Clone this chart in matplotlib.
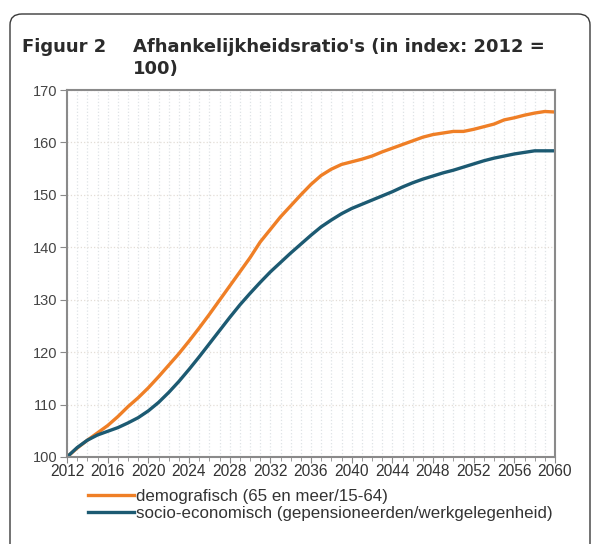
import matplotlib.pyplot as plt
from matplotlib.patches import FancyBboxPatch
from matplotlib.ticker import MultipleLocator

years = list(range(2012, 2061))
demografisch = [100.0, 101.7, 103.2, 104.6, 106.0, 107.7, 109.6, 111.3, 113.2, 115.3,
                117.5, 119.7, 122.1, 124.6, 127.2, 129.9, 132.6, 135.3, 138.0, 141.0,
                143.4, 145.8, 147.9, 150.0, 152.0, 153.7, 154.9, 155.8, 156.3, 156.8,
                157.4, 158.2, 158.9, 159.6, 160.3, 161.0, 161.5, 161.8, 162.1, 162.1,
                162.5, 163.0, 163.5, 164.3, 164.7, 165.2, 165.6, 165.9, 165.8]
socio_economisch = [100.0, 101.8, 103.2, 104.2, 104.9, 105.6, 106.5, 107.5, 108.8, 110.4,
                    112.3, 114.4, 116.7, 119.1, 121.6, 124.1, 126.6, 129.0, 131.2, 133.3,
                    135.3, 137.1, 138.9, 140.6, 142.3, 143.9, 145.2, 146.4, 147.4, 148.2,
                    149.0, 149.8, 150.6, 151.5, 152.3, 153.0, 153.6, 154.2, 154.7, 155.3,
                    155.9, 156.5, 157.0, 157.4, 157.8, 158.1, 158.4, 158.4, 158.4]
labels = ['demografisch (65 en meer/15-64)',
          'socio-economisch (gepensioneerden/werkgelegenheid)']

plt.rcParams['font.family'] = ['Liberation Sans', 'DejaVu Sans']

fig = plt.figure(figsize=(5.96, 5.44), dpi=100)

# kader rond de figuur
box = FancyBboxPatch((10 / 596, -0.05), 580 / 596, 1 - 14 / 544 + 0.05,
                     boxstyle='round,pad=0,rounding_size=0.02',
                     transform=fig.transFigure, fill=False,
                     edgecolor='#3a3a3a', linewidth=1.0)
fig.patches.append(box)

title_kw = dict(family='DejaVu Sans', weight='bold', fontsize=13, color='#2b2b2b', va='center')
fig.text(22 / 596, 1 - 47 / 544, 'Figuur 2', **title_kw)
fig.text(133 / 596, 1 - 47 / 544, "Afhankelijkheidsratio's (in index: 2012 =", **title_kw)
fig.text(133 / 596, 1 - 69 / 544, '100)', **title_kw)

ax = fig.add_axes([67 / 596, 1 - 457 / 544, 488 / 596, 367 / 544])
ax.plot(years, demografisch, color='#ef7f26', lw=2.4, label=labels[0])
ax.plot(years, socio_economisch, color='#1c5a72', lw=2.4, label=labels[1])

ax.set_xlim(2012, 2060)
ax.set_ylim(100, 170)
ax.xaxis.set_major_locator(MultipleLocator(4))
ax.xaxis.set_minor_locator(MultipleLocator(1))
ax.yaxis.set_major_locator(MultipleLocator(10))
ax.grid(which='both', axis='x', color='#dfe3e6', linestyle=':', linewidth=0.9)
ax.grid(which='major', axis='y', color='#e3ddd6', linestyle=':', linewidth=0.9)
ax.set_axisbelow(True)
for s in ax.spines.values():
    s.set_color('#8a8a8a')
    s.set_linewidth(1.5)
ax.tick_params(axis='x', which='major', length=4, color='#8a8a8a', labelsize=11.2,
               labelcolor='#333333', pad=1)
ax.tick_params(axis='x', which='minor', length=3, color='#8a8a8a')
ax.tick_params(axis='y', length=5, color='#8a8a8a', labelsize=10.5,
               labelcolor='#444444', pad=2)

fig.legend(loc='upper left', bbox_to_anchor=(88 / 596, 1 - 489 / 544), frameon=False,
           fontsize=12.2, handlelength=2.7, handletextpad=0.15, labelspacing=0.1,
           borderpad=0, borderaxespad=0, labelcolor='#333333')

fig.savefig('out.png', dpi=100)
